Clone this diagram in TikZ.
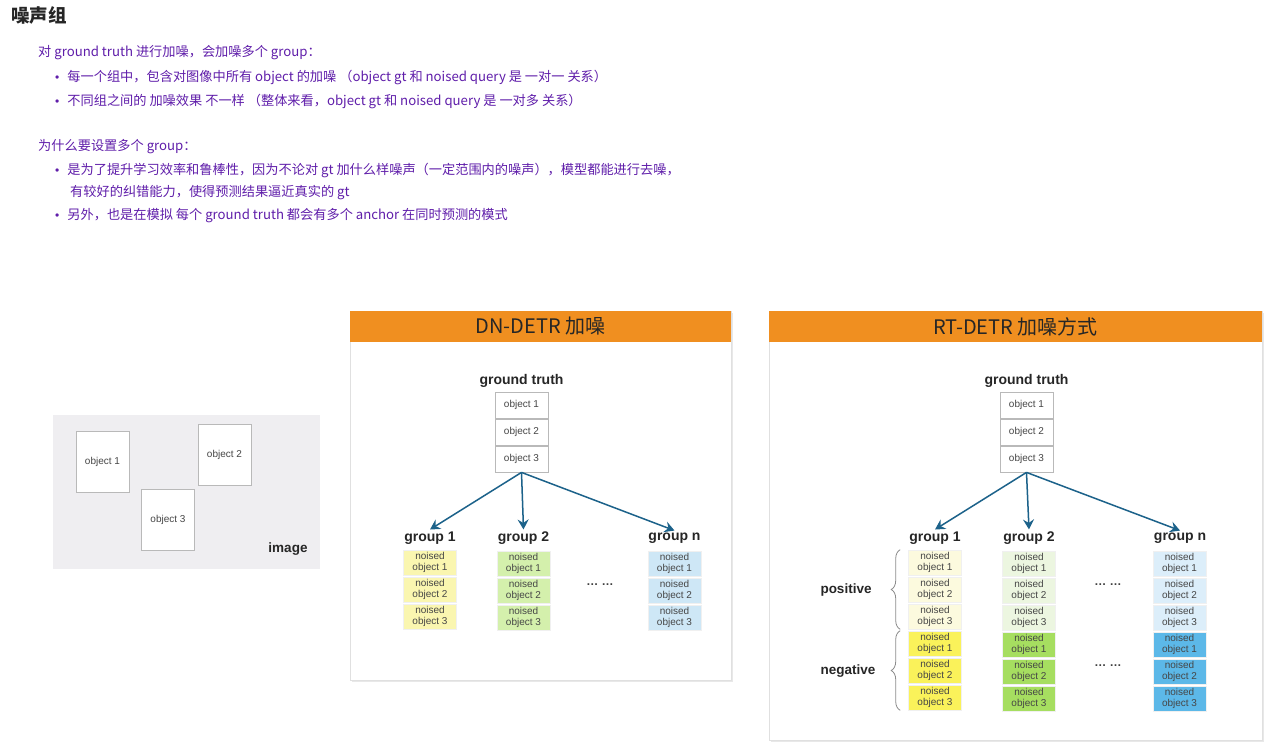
\documentclass[tikz,border=0pt]{standalone}
\usepackage{fontspec}
\setmainfont{Liberation Sans}
\newfontfamily\cjk{Noto Sans CJK SC}
\newfontfamily\dotfont{Liberation Sans}
\definecolor{notepurple}{RGB}{96, 30, 170}
\definecolor{headorange}{RGB}{240, 143, 32}
\definecolor{arrowblue}{RGB}{28, 98, 138}
\definecolor{imggray}{RGB}{239, 238, 241}
\definecolor{boxgray}{RGB}{185, 185, 185}
\definecolor{textgray}{RGB}{70, 70, 70}
\definecolor{dnyellow}{RGB}{250, 246, 176}
\definecolor{dngreen}{RGB}{212, 240, 172}
\definecolor{dnblue}{RGB}{206, 231, 246}
\definecolor{posyellow}{RGB}{252, 250, 222}
\definecolor{negyellow}{RGB}{250, 242, 90}
\definecolor{posgreen}{RGB}{236, 246, 224}
\definecolor{neggreen}{RGB}{166, 222, 96}
\definecolor{posblue}{RGB}{220, 238, 250}
\definecolor{negblue}{RGB}{92, 184, 232}
\usetikzlibrary{arrows.meta, positioning, decorations.pathreplacing, shadows}

\tikzset{
  note/.style={anchor=west, inner sep=0pt, text=notepurple, font=\cjk\fontsize{13.2}{15}\selectfont},
  panel/.style={draw=black!12, fill=white, drop shadow={opacity=0.18, shadow xshift=1.5pt, shadow yshift=-1.5pt}},
  headtitle/.style={text=black!85, font=\cjk\fontsize{20}{20}\selectfont},
  gtlabel/.style={font=\bfseries\fontsize{14}{14}\selectfont, text=black!85},
  grouplabel/.style={font=\bfseries\fontsize{14}{14}\selectfont, text=black!85, inner sep=2pt},
  sidelabel/.style={font=\bfseries\fontsize{13.5}{14}\selectfont, text=black!85},
  objbox/.style={draw=boxgray, fill=white, line width=0.8pt, minimum width=53pt, minimum height=26pt, inner sep=0pt, font=\fontsize{10}{11}\selectfont, text=textgray},
  imgobj/.style={draw=boxgray, fill=white, line width=0.9pt, minimum width=53pt, minimum height=61pt, inner sep=0pt, font=\fontsize{10}{11}\selectfont, text=textgray},
  noisebox/.style={draw=black!6, line width=0.6pt, minimum width=53pt, minimum height=25pt, inner sep=0pt, align=center, font=\fontsize{10}{11}\selectfont, text=textgray},
  noisearrow/.style={-{Stealth[length=10pt, width=11pt, inset=3.5pt]}, arrowblue, line width=1.5pt},
  dotslabel/.style={font=\bfseries\fontsize{12}{12}\selectfont, text=black!75},
  bracestyle/.style={decorate, decoration={brace, amplitude=9pt}, draw=black!45, line width=0.8pt}
}

\begin{document}
\begin{tikzpicture}[x=1pt, y=-1pt]
\useasboundingbox[fill=white] (0,0) rectangle (1280,753);

% notes on top
\node[anchor=west, inner sep=0pt, text=black!85, font=\cjk\bfseries\fontsize{18.5}{18.5}\selectfont] (title) at (11,15) {噪声组};
\node[note] (why1) at (38,53) {对 ground truth 进行加噪，会加噪多个 group：};
\node[note] (why1a) at (55,77) {{\dotfont\large •}\hspace{8pt}每一个组中，包含对图像中所有 object 的加噪 （object gt 和 noised query 是 一对一 关系）};
\node[note] (why1b) at (55,101) {{\dotfont\large •}\hspace{8pt}不同组之间的 加噪效果 不一样 （整体来看，object gt 和 noised query 是 一对多 关系）};
\node[note] (why2) at (38,147) {为什么要设置多个 group：};
\node[note] (why2a) at (55,170) {{\dotfont\large •}\hspace{8pt}是为了提升学习效率和鲁棒性，因为不论对 gt 加什么样噪声（一定范围内的噪声），模型都能进行去噪，};
\node[note] (why2b) at (70,193) {有较好的纠错能力，使得预测结果逼近真实的 gt};
\node[note] (why2c) at (55,216) {{\dotfont\large •}\hspace{8pt}另外，也是在模拟 每个 ground truth 都会有多个 anchor 在同时预测的模式};

% image
\fill[imggray] (53,415) rectangle (320,569);
\node[imgobj] (img1) at (102.5,461.5) {object 1};
\node[imgobj] (img2) at (224.5,454.5) {object 2};
\node[imgobj] (img3) at (168,519.5) {object 3};
\node[sidelabel] (imglabel) at (288,549) {image};

% DN-DETR panel
\draw[panel] (350,311) rectangle (731,680);
\fill[headorange] (350,311) rectangle (731,342);
\node[headtitle] (dntitle) at (540.5,326.5) {DN-DETR 加噪};
\node[gtlabel] (dngt) at (521.5,381) {ground truth};
\foreach \i in {1,2,3}
  \node[objbox] (dngt\i) at (521.5,378+27*\i) {object \i};
\node[grouplabel] (dng1) at (430,538) {group 1};
\node[grouplabel] (dng2) at (523.5,538) {group 2};
\node[grouplabel] (dngn) at (674.5,538) {group n};
\foreach \i in {1,2,3} {
  \node[noisebox, fill=dnyellow] (dng1r\i) at (430,535.5+27*\i) {noised\\object \i};
  \node[noisebox, fill=dngreen] (dng2r\i) at (523.5,536.5+27*\i) {noised\\object \i};
  \node[noisebox, fill=dnblue] (dngnr\i) at (674.5,536.5+27*\i) {noised\\object \i};
}
\node[dotslabel] (dndots) at (600,585) {… …};
\draw[noisearrow] (dngt3.south) -- (dng1.north);
\draw[noisearrow] (dngt3.south) -- (dng2.north);
\draw[noisearrow] (dngt3.south) -- (dngn.north);

% RT-DETR panel
\draw[panel] (769,311) rectangle (1262,740);
\fill[headorange] (769,311) rectangle (1262,342);
\node[headtitle] (rttitle) at (1015.5,326.5) {RT-DETR 加噪方式};
\node[gtlabel] (rtgt) at (1026.5,381) {ground truth};
\foreach \i in {1,2,3}
  \node[objbox] (rtgt\i) at (1026.5,378+27*\i) {object \i};
\node[grouplabel] (rtg1) at (935,538) {group 1};
\node[grouplabel] (rtg2) at (1029,538) {group 2};
\node[grouplabel] (rtgn) at (1180,538) {group n};
\foreach \i in {1,2,3} {
  \node[noisebox, fill=posyellow] (rtg1p\i) at (935,535.5+27*\i) {noised\\object \i};
  \node[noisebox, fill=posgreen] (rtg2p\i) at (1029,536.5+27*\i) {noised\\object \i};
  \node[noisebox, fill=posblue] (rtgnp\i) at (1179.5,536.5+27*\i) {noised\\object \i};
  \node[noisebox, fill=negyellow] (rtg1n\i) at (935,616.5+27*\i) {noised\\object \i};
  \node[noisebox, fill=neggreen] (rtg2n\i) at (1029,617.5+27*\i) {noised\\object \i};
  \node[noisebox, fill=negblue] (rtgnn\i) at (1179.5,617.5+27*\i) {noised\\object \i};
}
\node[dotslabel] (rtdots1) at (1108,585) {… …};
\node[dotslabel] (rtdots2) at (1108,666) {… …};
\draw[noisearrow] (rtgt3.south) -- (rtg1.north);
\draw[noisearrow] (rtgt3.south) -- (rtg2.north);
\draw[noisearrow] (rtgt3.south) -- (rtgn.north);
\draw[bracestyle] ([xshift=-8pt]rtg1p3.south west) -- ([xshift=-8pt]rtg1p1.north west);
\draw[bracestyle] ([xshift=-8pt]rtg1n3.south west) -- ([xshift=-8pt]rtg1n1.north west);
\node[sidelabel] (pos) at (846,590) {positive};
\node[sidelabel] (neg) at (848,671) {negative};
\end{tikzpicture}
\end{document}
